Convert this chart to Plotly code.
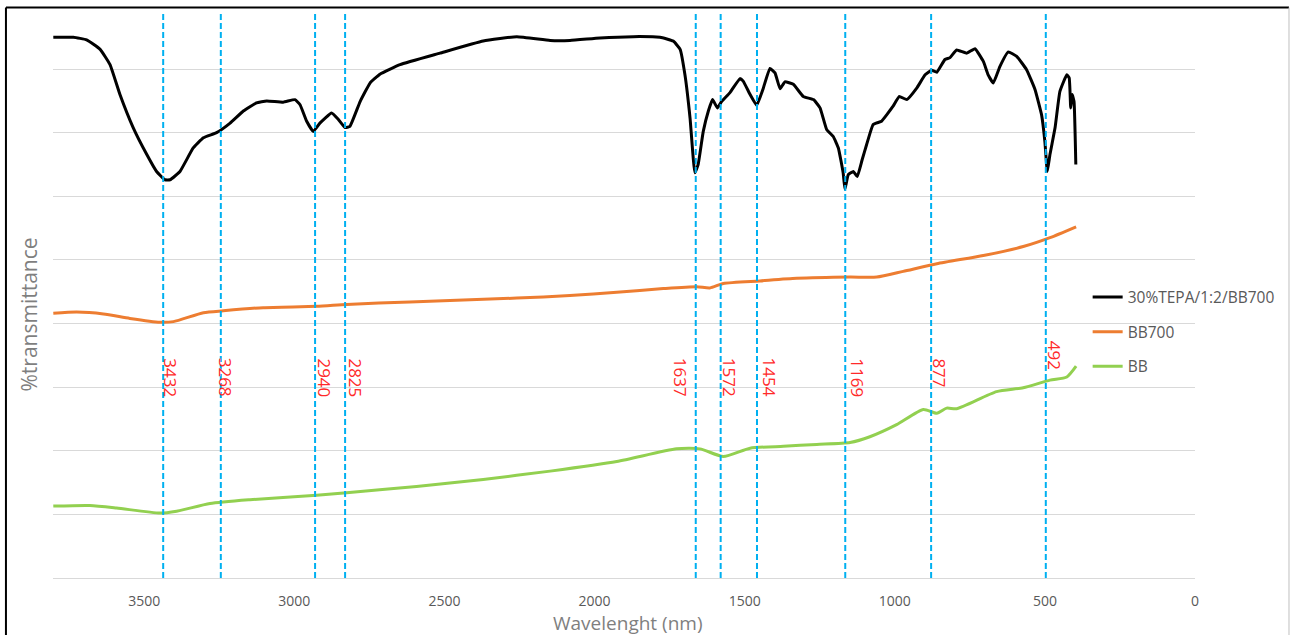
import plotly.graph_objects as go

# ---------------- data ----------------
black_name = "30%TEPA/1:2/BB700"
black_x = [3803, 3736, 3692, 3647, 3614, 3581, 3537, 3492, 3459, 3431, 3414, 3381, 3337, 3303, 3259, 3214,
           3170, 3126, 3092, 3037, 2998, 2981, 2959, 2937, 2915, 2876, 2854, 2831, 2815, 2781, 2748, 2715,
           2648, 2515, 2371, 2259, 2148, 2082, 1982, 1871, 1782, 1738, 1715, 1699, 1682, 1666, 1655, 1638,
           1621, 1607, 1591, 1577, 1549, 1516, 1505, 1482, 1460, 1438, 1416, 1399, 1382, 1366, 1338, 1305,
           1271, 1249, 1227, 1205, 1188, 1172, 1166, 1155, 1138, 1125, 1109, 1094, 1072, 1044, 1027, 1005,
           985, 960, 927, 899, 877, 860, 833, 816, 794, 760, 733, 705, 689, 672, 650, 622, 594, 561, 533,
           511, 500, 492, 483, 466, 450, 427, 419, 414, 409, 403, 397]
black_y = [85.0, 85.0, 84.6, 83.1, 80.7, 76.0, 70.8, 66.6, 63.9, 62.6, 62.6, 63.9, 67.6, 69.2, 70.0, 71.5,
           73.4, 74.7, 75.0, 74.8, 75.2, 74.4, 71.8, 70.2, 71.5, 73.1, 72.1, 70.8, 71.0, 74.9, 77.8, 79.2,
           80.7, 82.5, 84.4, 85.1, 84.5, 84.5, 84.9, 85.1, 85.0, 84.4, 83.1, 79.1, 72.3, 63.7, 65.0, 70.2,
           73.4, 75.2, 73.9, 74.9, 76.3, 78.5, 78.1, 76.0, 74.3, 77.0, 80.1, 79.4, 76.9, 78.0, 77.6, 75.7,
           75.2, 73.9, 70.5, 69.4, 67.6, 63.7, 61.1, 63.4, 63.9, 63.1, 65.7, 68.1, 71.3, 71.8, 72.8, 74.2,
           75.7, 75.2, 77.0, 79.1, 79.8, 79.5, 81.5, 81.8, 83.0, 82.5, 83.2, 81.2, 79.1, 77.8, 80.4, 82.7,
           82.0, 79.9, 76.8, 72.8, 68.6, 63.9, 66.6, 70.8, 76.5, 79.1, 78.6, 73.9, 76.0, 74.9, 65.0]

orange_name = "BB700"
orange_x = [3803, 3725, 3636, 3548, 3448, 3403, 3303, 3237, 3104, 2926, 2826, 2615, 2437, 2259, 2082,
            1926, 1771, 1660, 1616, 1571, 1449, 1327, 1149, 1060, 972, 860, 705, 572, 483, 396]
orange_y = [41.6, 41.8, 41.5, 40.8, 40.2, 40.3, 41.7, 42.0, 42.5, 42.7, 43.0, 43.4, 43.7, 44.0, 44.4,
            44.9, 45.5, 45.8, 45.6, 46.3, 46.7, 47.1, 47.3, 47.3, 48.2, 49.4, 50.7, 52.1, 53.5, 55.2]

green_name = "BB"
green_x = [3803, 3681, 3592, 3448, 3392, 3281, 3148, 2926, 2826, 2593, 2371, 2148, 1926, 1727, 1649,
           1571, 1482, 1371, 1260, 1149, 1083, 994, 905, 860, 827, 794, 661, 572, 483, 427, 396]
green_y = [11.3, 11.4, 11.0, 10.2, 10.5, 11.7, 12.3, 13.0, 13.4, 14.4, 15.5, 16.8, 18.3, 20.3, 20.3,
           19.1, 20.4, 20.7, 21.0, 21.3, 22.2, 24.1, 26.5, 25.9, 26.7, 26.6, 29.3, 29.9, 31.1, 31.6, 33.3]

peak_labels = ["3432", "3268", "2940", "2825", "1637", "1572", "1454", "1169", "877", "492"]
peak_x = [3437, 3245, 2931, 2831, 1663, 1580, 1459, 1165, 879, 497]

x_ticks = [3500, 3000, 2500, 2000, 1500, 1000, 500, 0]
x_title = "Wavelenght (nm)"
y_title = "%transmittance"

# ---------------- styling ----------------
label_dx = [7, 5, 9, 10, -15, 9, 12, 12, 8, 9]        # px offset of peak labels
label_top = [0.3877] * 9 + [0.4175]                    # paper y of label tops

FONT = "Open Sans"
fig = go.Figure()
for name, xs, ys, col, shape, sm in [(black_name, black_x, black_y, "#000000", "spline", 0.35),
                                     (orange_name, orange_x, orange_y, "#ED7D31", "spline", 0.6),
                                     (green_name, green_x, green_y, "#92D050", "spline", 0.6)]:
    fig.add_trace(go.Scatter(x=xs, y=ys, mode="lines", name=name, legendgroup=name,
                             line=dict(color=col, width=3, shape=shape, smoothing=sm)))

for px in peak_x:
    fig.add_shape(type="line", xref="x", yref="paper", x0=px, x1=px, y0=0, y1=0.991,
                  line=dict(color="#00B0F0", width=2, dash="6px,3px"), layer="above")

for lab, px, dx, top in zip(peak_labels, peak_x, label_dx, label_top):
    fig.add_annotation(x=px, y=top, xref="x", yref="paper", text=lab, showarrow=False,
                       textangle=90, xanchor="center", yanchor="top", xshift=dx,
                       font=dict(family=FONT, size=17, color="#FF2A2A"), borderpad=0)

fig.add_annotation(x=0.5, y=-0.079, xref="paper", yref="paper", text=x_title, showarrow=False,
                   xanchor="center", yanchor="middle", xshift=4,
                   font=dict(family=FONT, size=19, color="#7F7F7F"))
fig.add_annotation(x=-0.021, y=0.4623, xref="paper", yref="paper", text=y_title, showarrow=False,
                   xanchor="center", yanchor="middle", textangle=-90,
                   font=dict(family=FONT, size=21, color="#7F7F7F"))

# frame of the chart area
fig.add_shape(type="line", xref="paper", yref="paper", x0=-0.0412, x1=1.0823, y0=1.0009, y1=1.0009,
              line=dict(color="#000000", width=2))
fig.add_shape(type="line", xref="paper", yref="paper", x0=-0.0412, x1=-0.0412, y0=-0.2, y1=1.0009,
              line=dict(color="#000000", width=2))
fig.add_shape(type="line", xref="paper", yref="paper", x0=1.0823, x1=1.0823, y0=-0.2, y1=1.0009,
              line=dict(color="#BFBFBF", width=1))

fig.update_layout(
    width=1291, height=635,
    margin=dict(l=53, r=96, t=8, b=57, autoexpand=False),
    paper_bgcolor="white", plot_bgcolor="white",
    showlegend=True,
    legend=dict(x=0.906, y=0.522, xanchor="left", yanchor="top", bgcolor="rgba(0,0,0,0)",
                font=dict(family=FONT, size=15.5, color="#595959"), tracegroupgap=11.5, itemwidth=30),
    xaxis=dict(range=[3804, 0], tickvals=x_ticks, ticktext=[str(v) for v in x_ticks],
               showgrid=False, zeroline=False, showline=True, linecolor="#D9D9D9", linewidth=1,
               ticks="", ticklabelstandoff=10,
               tickfont=dict(family=FONT, size=14, color="#595959")),
    yaxis=dict(range=[0, 89.6], dtick=10, tick0=0, showticklabels=False, showgrid=True,
               gridcolor="#D9D9D9", gridwidth=1, zeroline=False, ticks=""),
)

fig.write_html("out.html", config={"displayModeBar": False},
               post_script="document.body.style.margin='0';document.body.style.overflow='hidden';")
